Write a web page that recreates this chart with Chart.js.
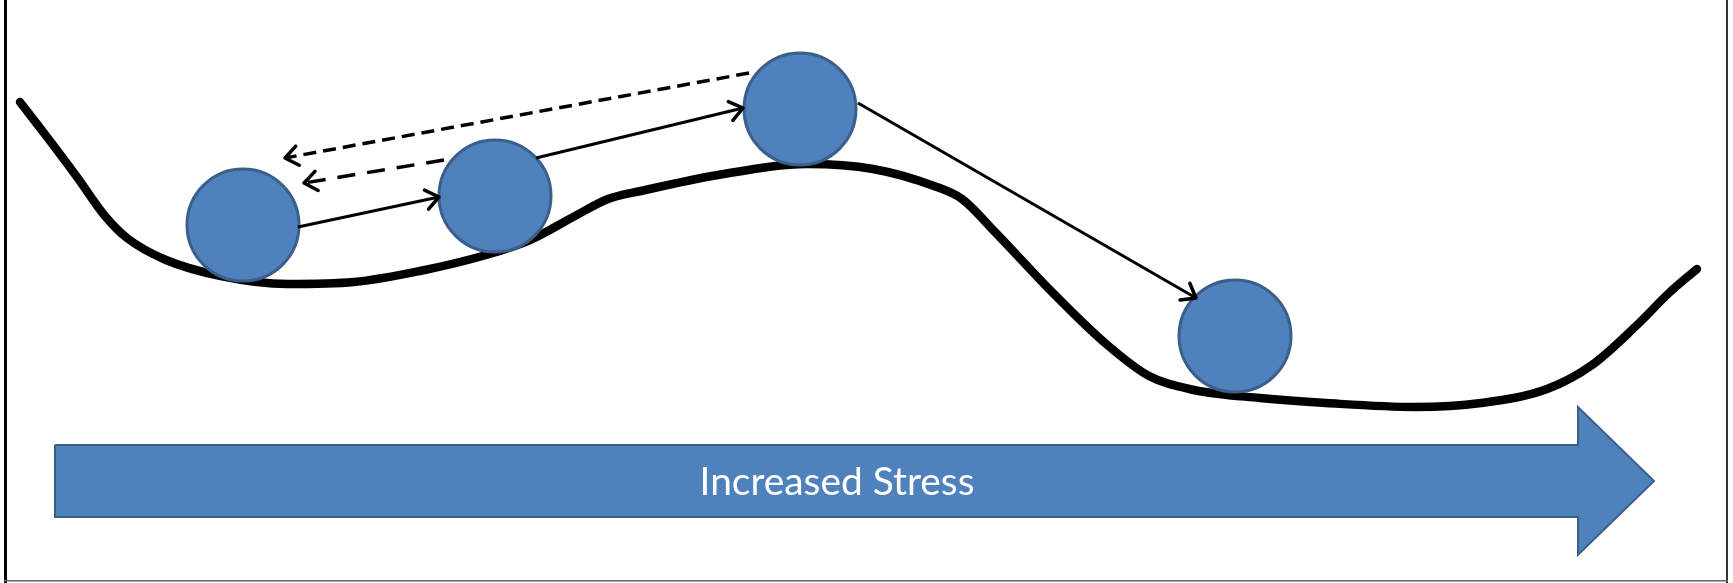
<!DOCTYPE html>
<html>
<head>
<meta charset="utf-8">
<style>
  html, body { margin:0; padding:0; background:#fff; }
  #wrap { width:1733px; height:583px; }
</style>
<script src="https://cdn.jsdelivr.net/npm/chart.js@4/dist/chart.umd.min.js"></script>
</head>
<body>
<div id="wrap"><canvas id="stressChart" width="1733" height="583"></canvas></div>
<script>
// =========================
// DATA (picture units, y grows downwards)
// =========================

const curveX = [20, 44, 77, 105, 127, 166, 221, 287, 354, 420, 486, 530, 575, 608, 641, 718, 807, 873, 934, 962, 995, 1050, 1105, 1149, 1194, 1260, 1326, 1415, 1481, 1547, 1592, 1636, 1669, 1697];
const curveY = [102, 133, 177, 216, 238, 260, 276, 284, 282, 271, 255, 240, 216, 199, 191, 175, 164, 169, 186, 199, 232, 290, 343, 376, 390, 398, 403, 407, 403, 389, 365, 326, 293, 269];

const ballX = [243, 495, 800, 1235];
const ballY = [225, 196, 109, 336];

// [x1, y1, x2, y2]
const solidArrows = [
  [298, 227, 439, 197],
  [536, 158, 743, 108],
  [858, 103, 1196, 298]
];
const dashedArrows = [
  [749, 73, 285, 158],
  [444, 160, 304, 183]
];

const stressArrowX = [55, 1578, 1578, 1654, 1578, 1578, 55, 55];
const stressArrowY = [445, 445, 407, 481, 555, 517, 517, 445];
const stressLabel = "Increased Stress";
const stressLabelAt = [837, 482];

// =========================
// HELPERS
// =========================

const BLUE = "#4F81BD";
const BLUE_EDGE = "#3A5F8B";

function pts(xs, ys){
  return xs.map((x,i)=>({x, y: ys[i]}));
}

function arrowSet(a, dash){
  return {
    data: [{x:a[0], y:a[1]}, {x:a[2], y:a[3]}],
    showLine: true,
    borderColor: "#000",
    borderWidth: dash ? 3.5 : 3,
    borderDash: dash || [],
    pointRadius: 0,
    arrow: true,
    order: 1
  };
}

// arrowheads + label + frame
const extras = {
  id: "extras",
  afterDatasetsDraw(chart){
    const ctx = chart.ctx;
    const xs = chart.scales.x, ys = chart.scales.y;

    chart.data.datasets.forEach(ds=>{
      if(!ds.arrow) return;
      const a = ds.data[0], b = ds.data[1];
      const x1 = xs.getPixelForValue(a.x), y1 = ys.getPixelForValue(a.y);
      const x2 = xs.getPixelForValue(b.x), y2 = ys.getPixelForValue(b.y);
      const ang = Math.atan2(y2 - y1, x2 - x1);
      const len = 16, spread = 0.65;
      ctx.save();
      ctx.strokeStyle = "#000";
      ctx.lineWidth = 3.5;
      ctx.setLineDash([]);
      ctx.lineCap = "round";
      ctx.lineJoin = "round";
      ctx.beginPath();
      ctx.moveTo(x2 - len*Math.cos(ang - spread), y2 - len*Math.sin(ang - spread));
      ctx.lineTo(x2, y2);
      ctx.lineTo(x2 - len*Math.cos(ang + spread), y2 - len*Math.sin(ang + spread));
      ctx.stroke();
      ctx.restore();
    });

    // label on the big arrow
    ctx.save();
    const target = 275;
    ctx.font = "40px Lato";
    const size = 40 * target / ctx.measureText(stressLabel).width;
    ctx.font = size.toFixed(1) + "px Lato";
    ctx.fillStyle = "#fff";
    ctx.textAlign = "center";
    ctx.textBaseline = "middle";
    ctx.fillText(stressLabel, xs.getPixelForValue(stressLabelAt[0]), ys.getPixelForValue(stressLabelAt[1]));
    ctx.restore();

    // frame
    ctx.save();
    ctx.fillStyle = "#000";
    ctx.fillRect(4, 0, 3, chart.height);
    ctx.fillStyle = "#333";
    ctx.fillRect(chart.width - 7, 0, 2, chart.height);
    ctx.fillStyle = "#666";
    ctx.fillRect(4, chart.height - 3, chart.width - 9, 1.5);
    ctx.restore();
  }
};

// =========================
// CHART
// =========================

new Chart(document.getElementById("stressChart").getContext("2d"), {
  type: "scatter",
  data: {
    datasets: [
      {
        data: pts(stressArrowX, stressArrowY),
        showLine: true,
        tension: 0,
        fill: "shape",
        backgroundColor: BLUE,
        borderColor: BLUE_EDGE,
        borderWidth: 2,
        pointRadius: 0,
        order: 4
      },
      {
        data: pts(curveX, curveY),
        showLine: true,
        cubicInterpolationMode: "monotone",
        borderColor: "#000",
        borderWidth: 8.5,
        borderCapStyle: "round",
        pointRadius: 0,
        order: 3
      },
      {
        data: pts(ballX, ballY),
        pointRadius: 56,
        backgroundColor: BLUE,
        borderColor: BLUE_EDGE,
        borderWidth: 3,
        order: 2
      },
      ...solidArrows.map(a => arrowSet(a)),
      arrowSet(dashedArrows[0], [13, 7]),
      arrowSet(dashedArrows[1], [18, 12])
    ]
  },
  options: {
    responsive: false,
    animation: false,
    layout: { padding: 0, autoPadding: false },
    plugins: { legend: { display: false }, tooltip: { enabled: false } },
    scales: {
      x: { type: "linear", min: 0, max: 1733, display: false },
      y: { type: "linear", min: 0, max: 583, reverse: true, display: false }
    }
  },
  plugins: [extras]
});
</script>
</body>
</html>
